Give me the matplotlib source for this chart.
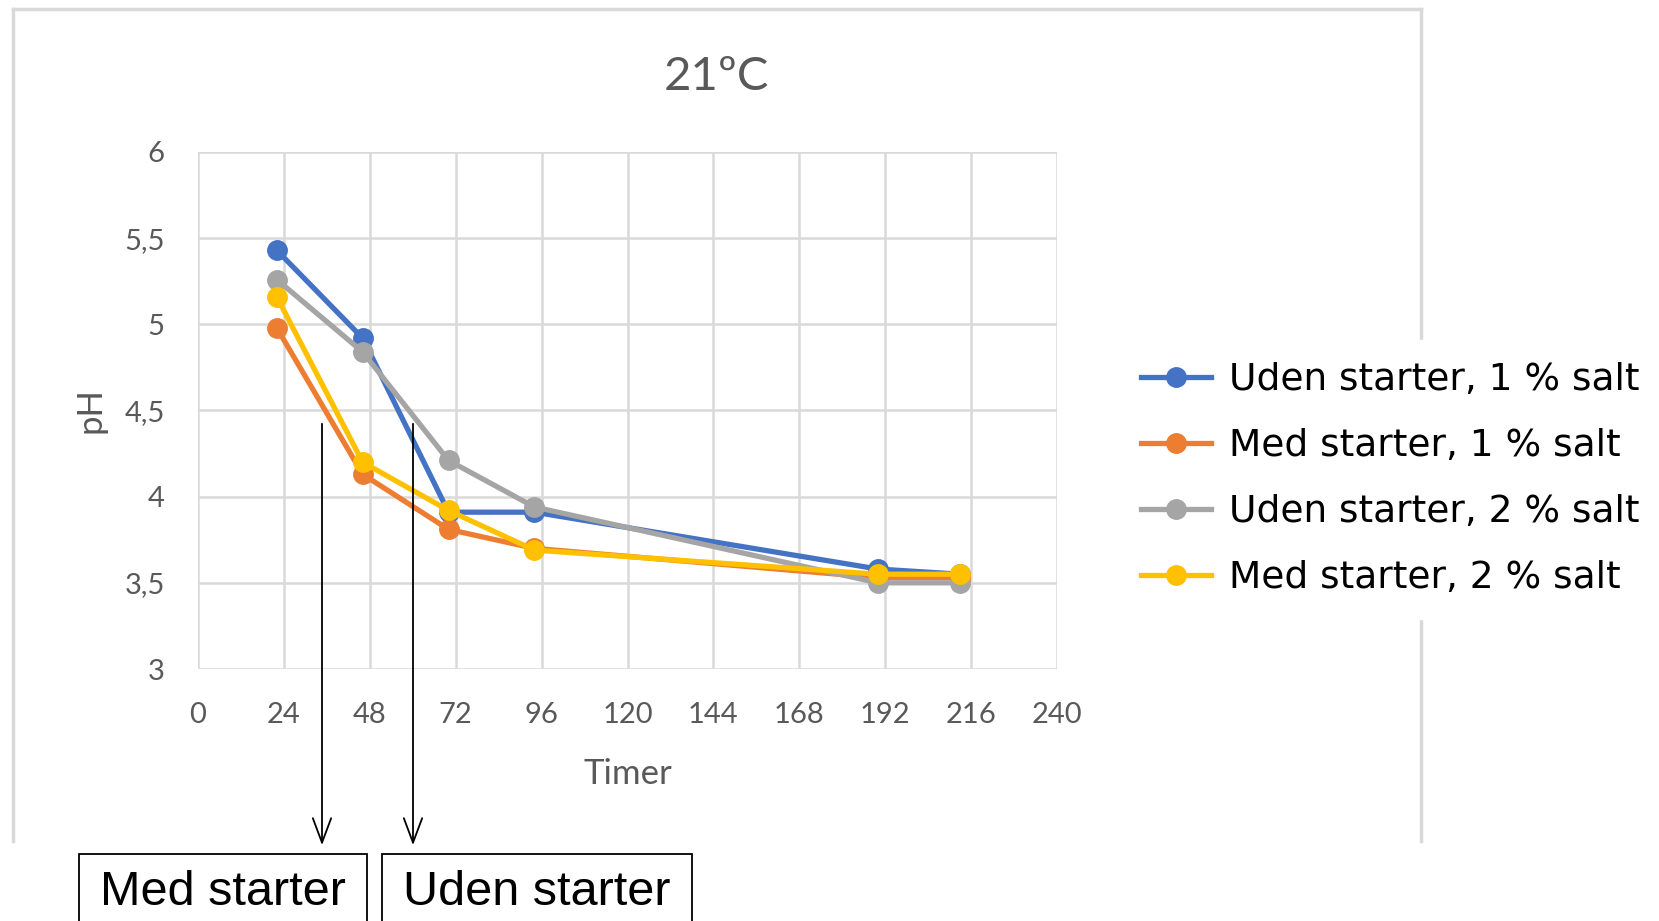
import matplotlib
matplotlib.use('Agg')
import matplotlib.pyplot as plt
from matplotlib.lines import Line2D
from matplotlib.patches import Rectangle, FancyArrowPatch

# Data
timer = [22, 46, 70, 94, 190, 213]
uden_1 = [5.43, 4.92, 3.91, 3.91, 3.58, 3.55]
med_1 = [4.98, 4.13, 3.81, 3.70, 3.53, 3.53]
uden_2 = [5.26, 4.84, 4.21, 3.94, 3.50, 3.50]
med_2 = [5.16, 4.20, 3.92, 3.69, 3.55, 3.55]

serier = [
    ('Uden starter, 1 % salt', uden_1, '#4472C4'),
    ('Med starter, 1 % salt', med_1, '#ED7D31'),
    ('Uden starter, 2 % salt', uden_2, '#A5A5A5'),
    ('Med starter, 2 % salt', med_2, '#FFC000'),
]

x_ticks = list(range(0, 241, 24))
y_ticks = [3, 3.5, 4, 4.5, 5, 5.5, 6]
y_labels = ['3', '3,5', '4', '4,5', '5', '5,5', '6']

W, H = 1659, 921


def fx(x):
    return x / W


def fy(y):
    return 1 - y / H


fig = plt.figure(figsize=(W / 100, H / 100), dpi=100)
ax = fig.add_axes([fx(198), fy(669), fx(1057) - fx(198), fy(152) - fy(669)])

grey = '#595959'
for navn, vals, farve in serier:
    ax.plot(timer, vals, '-o', color=farve, lw=3.8, markersize=14, label=navn)

ax.set_xlim(0, 240)
ax.set_ylim(3, 6)
ax.set_xticks(x_ticks)
ax.set_yticks(y_ticks)
ax.set_yticklabels(y_labels)
ax.grid(True, color='#d9d9d9', lw=1.8)
ax.set_axisbelow(True)
for s in ax.spines.values():
    s.set_visible(False)
ax.tick_params(length=0, labelsize=21, labelcolor=grey, pad=24)
for lab in ax.get_xticklabels() + ax.get_yticklabels():
    lab.set_family('Lato')
ax.set_xlabel('Timer', fontsize=25, color=grey, family='Lato', labelpad=21)
ax.set_ylabel('pH', fontsize=25, color=grey, family='Lato', labelpad=13)

fig.text(fx(716), fy(77), '21ºC', fontsize=34, color=grey, family='Lato',
         ha='center', va='center')

# Legend
leg = ax.legend(loc='center left', bbox_to_anchor=(fx(1100), fy(479)),
                bbox_transform=fig.transFigure, frameon=True,
                handlelength=1.85, handletextpad=0.5, labelspacing=0.8,
                borderpad=0.6, prop={'family': 'DejaVu Sans', 'size': 27})
leg.get_frame().set_facecolor('white')
leg.get_frame().set_edgecolor('white')
leg.get_frame().set_alpha(1)

# Chart frame (behind the axes, cut off at the bottom)
for xs, ys in [([13, 1421], [9, 9]), ([13, 13], [9, 841]), ([1421, 1421], [9, 841])]:
    fig.add_artist(Line2D([fx(v) for v in xs], [fy(v) for v in ys],
                          color='#d9d9d9', lw=2.5, zorder=-1))

# Annotation boxes and arrows
for x0, x1, tekst in [(79, 367, 'Med starter'), (382, 692, 'Uden starter')]:
    fig.add_artist(Rectangle((fx(x0), fy(935)), fx(x1) - fx(x0), fy(854) - fy(935),
                             fill=False, edgecolor='black', lw=1.3,
                             transform=fig.transFigure))
    fig.text(fx((x0 + x1) / 2), fy(892), tekst, fontsize=35, color='black',
             family='Liberation Sans', ha='center', va='center')

for xa in [322, 413]:
    fig.add_artist(FancyArrowPatch((fx(xa), fy(421)), (fx(xa), fy(848)),
                                   arrowstyle='->,head_length=0.8,head_width=0.3',
                                   mutation_scale=22, color='black', lw=1.3,
                                   transform=fig.transFigure))

fig.savefig('out.png', dpi=100)
